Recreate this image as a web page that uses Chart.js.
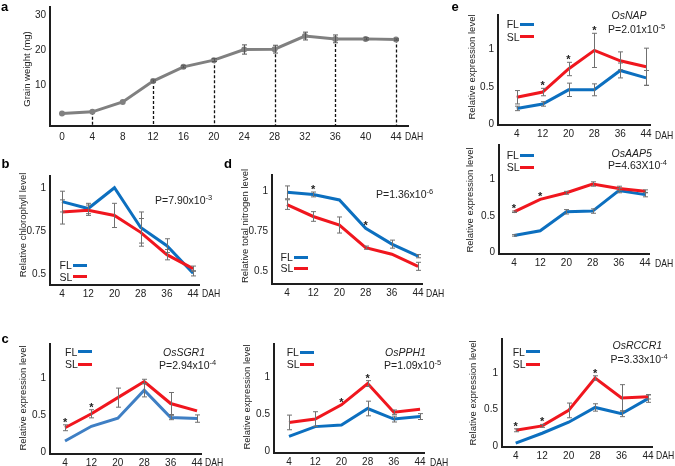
<!DOCTYPE html>
<html>
<head>
<meta charset="utf-8">
<script src="https://cdn.jsdelivr.net/npm/chart.js@4"></script>
<style>
  body { margin: 0; background: #fff; }
  #fig { position: relative; width: 675px; height: 466px; overflow: hidden; background: #fff;
         font-family: Arial, "Liberation Sans", sans-serif; color: #222; }
  #fig canvas { position: absolute; }
  .t { position: absolute; white-space: nowrap; font-size: 10.5px; line-height: 1; transform: translateY(-50%); }
  .lbl { font-weight: bold; font-size: 13px; color: #000; }
  .dah { transform: translateY(-50%) scaleX(0.82); transform-origin: left center; font-size: 10.5px; }
  .yt { position: absolute; white-space: nowrap; font-size: 9.5px; line-height: 1;
        transform: translate(-50%, -50%) rotate(-90deg); }
  .key { position: absolute; height: 3px; }
  sup { font-size: 7.5px; vertical-align: 4px; line-height: 0; }
</style>
</head>
<body>
<div id="fig"></div>
<script>
// ---- data ----
const days = [4, 12, 20, 28, 36, 44];

// a: grain weight
const grainDays = [0, 4, 8, 12, 16, 20, 24, 28, 32, 36, 40, 44];
const grainWeight = [2.1, 2.6, 5.4, 11.3, 15.3, 17.2, 20.2, 20.3, 24.0, 23.2, 23.2, 23.0];
const grainSd = [0, 0, 0, 0.3, 0.3, 0.4, 1.3, 1.1, 1.1, 1.1, 0.3, 0.2];
const grainDropDays = [4, 12, 20, 28, 36, 44];
const grainTicks = [10, 20, 30];

// b: chlorophyll
const chlFL = [0.92, 0.88, 1.0, 0.77, 0.665, 0.505];
const chlSL = [0.86, 0.87, 0.84, 0.742, 0.613, 0.532];
const chlFLsd = [0.06, 0.03, 0, 0.09, 0.04, 0.015];
const chlSLsd = [0.07, 0.03, 0.07, 0.08, 0.03, 0.015];

// d: total nitrogen
const nFL = [0.99, 0.977, 0.943, 0.766, 0.668, 0.593];
const nSL = [0.914, 0.84, 0.787, 0.646, 0.605, 0.53];
const nFLsd = [0.04, 0.015, 0, 0, 0.025, 0.01];
const nSLsd = [0.03, 0.03, 0.05, 0.01, 0, 0.025];
const ratioTicks = [0.5, 0.75, 1];

// c: OsSGR1, OsPPH1, OsRCCR1
const sgr1FL = [0.15, 0.35, 0.46, 0.84, 0.47, 0.455];
const sgr1SL = [0.33, 0.52, 0.74, 0.96, 0.66, 0.56];
const sgr1FLsd = [0, 0, 0, 0.09, 0.03, 0.05];
const sgr1SLsd = [0.04, 0.055, 0.13, 0.03, 0.15, 0];

const pph1FL = [0.2, 0.333, 0.356, 0.58, 0.436, 0.47];
const pph1SL = [0.39, 0.436, 0.63, 0.92, 0.53, 0.57];
const pph1FLsd = [0, 0, 0, 0.1, 0.04, 0.04];
const pph1SLsd = [0.1, 0.1, 0, 0.04, 0.03, 0];

const rccr1FL = [0.045, 0.18, 0.33, 0.53, 0.445, 0.65];
const rccr1SL = [0.22, 0.28, 0.49, 0.93, 0.66, 0.675];
const rccr1FLsd = [0, 0, 0, 0.05, 0.04, 0.05];
const rccr1SLsd = [0.02, 0.02, 0.1, 0.03, 0.18, 0.03];

// e: OsNAP, OsAAP5
const napFL = [0.21, 0.27, 0.46, 0.46, 0.72, 0.62];
const napSL = [0.36, 0.43, 0.74, 0.99, 0.85, 0.77];
const napFLsd = [0.03, 0.03, 0.09, 0.08, 0.1, 0.1];
const napSLsd = [0.09, 0.05, 0.09, 0.23, 0.12, 0.25];

const aap5FL = [0.237, 0.30, 0.56, 0.57, 0.85, 0.795];
const aap5SL = [0.56, 0.73, 0.82, 0.94, 0.88, 0.84];
const aap5FLsd = [0.01, 0, 0.03, 0.03, 0.03, 0.03];
const aap5SLsd = [0.01, 0, 0.02, 0.03, 0.03, 0.02];
const exprTicks = [0, 0.5, 1];

// significance marks (DAH)
const nStars = [12, 28];
const sgr1Stars = [4, 12];
const pph1Stars = [20, 28];
const rccr1Stars = [4, 12, 28];
const napStars = [12, 20, 28];
const aap5Stars = [4, 12];

// ---- drawing ----
const FL_BLUE = '#0c6fbf';
const SL_RED = '#f0161e';
const AXIS = '#1e1e1e';

Chart.defaults.font.family = 'Arial, "Liberation Sans", sans-serif';
Chart.defaults.font.size = 10;
Chart.defaults.color = '#222';

const fig = document.getElementById('fig');
const ML = 45, MT = 8, MR = 12, MB = 24;

function series(xs, vals, sd, color, order) {
  return {
    data: xs.map((d, i) => ({ x: d, y: vals[i] })),
    errors: sd,
    borderColor: color,
    backgroundColor: color,
    borderWidth: 3,
    pointRadius: 0,
    tension: 0,
    order: order
  };
}

function makeChart(box, xr, yr, xTicks, yTicks, datasets, extra) {
  const cv = document.createElement('canvas');
  const w = box.r - box.l + ML + MR, h = box.b - box.t + MT + MB;
  cv.width = w; cv.height = h;
  cv.style.left = (box.l - ML) + 'px';
  cv.style.top = (box.t - MT) + 'px';
  cv.style.width = w + 'px';
  cv.style.height = h + 'px';
  fig.appendChild(cv);

  // error bars, stars and drop lines, placed through the chart scales
  const marks = {
    id: 'marks',
    beforeDatasetsDraw(chart) {
      const { ctx, scales: { x, y }, chartArea } = chart;
      if (!extra.drop) return;
      ctx.save();
      ctx.strokeStyle = '#111';
      ctx.lineWidth = 1.3;
      ctx.setLineDash([3, 2]);
      const pts = chart.data.datasets[0].data;
      extra.drop.forEach(d => {
        const p = pts.find(q => q.x === d);
        const px = Math.round(x.getPixelForValue(d)) + 0.5;
        ctx.beginPath();
        ctx.moveTo(px, y.getPixelForValue(p.y));
        ctx.lineTo(px, chartArea.bottom);
        ctx.stroke();
      });
      ctx.restore();
    },
    afterDatasetsDraw(chart) {
      const { ctx, scales: { x, y } } = chart;
      ctx.save();
      ctx.strokeStyle = extra.barColor || '#707070';
      ctx.lineWidth = 1;
      chart.data.datasets.forEach(ds => {
        ds.data.forEach((p, i) => {
          const e = ds.errors[i];
          if (!e) return;
          const px = Math.round(x.getPixelForValue(p.x)) + 0.5;
          const top = y.getPixelForValue(p.y + e), bot = y.getPixelForValue(p.y - e);
          ctx.beginPath();
          ctx.moveTo(px, top); ctx.lineTo(px, bot);
          ctx.moveTo(px - 2.5, top); ctx.lineTo(px + 2.5, top);
          ctx.moveTo(px - 2.5, bot); ctx.lineTo(px + 2.5, bot);
          ctx.stroke();
        });
      });
      if (extra.stars) {
        ctx.fillStyle = '#222';
        ctx.font = 'bold 11px Arial, "Liberation Sans", sans-serif';
        ctx.textAlign = 'center';
        ctx.textBaseline = 'alphabetic';
        extra.stars.forEach(d => {
          let top = Infinity;
          chart.data.datasets.forEach(ds => {
            const i = ds.data.findIndex(q => q.x === d);
            top = Math.min(top, y.getPixelForValue(ds.data[i].y + (ds.errors[i] || 0)));
          });
          ctx.fillText('*', x.getPixelForValue(d), top + 1);
        });
      }
      ctx.restore();
    }
  };

  return new Chart(cv, {
    type: 'line',
    data: { datasets: datasets },
    options: {
      responsive: false,
      animation: false,
      devicePixelRatio: 1,
      layout: { padding: { top: MT, right: MR, left: 0, bottom: 0 } },
      plugins: { legend: { display: false }, tooltip: { enabled: false } },
      scales: {
        x: {
          type: 'linear', min: xr[0], max: xr[1],
          grid: { display: false, drawTicks: false },
          border: { color: AXIS, width: 2 },
          ticks: { padding: extra.xPad || 3, maxRotation: 0, autoSkip: false, color: '#222' },
          afterBuildTicks: s => { s.ticks = xTicks.map(v => ({ value: v })); },
          afterFit: s => { s.height = MB; }
        },
        y: {
          type: 'linear', min: yr[0], max: yr[1],
          grid: { display: false, drawTicks: false },
          border: { color: AXIS, width: 2 },
          ticks: { padding: 4, color: '#222', callback: v => String(v) },
          afterBuildTicks: s => { s.ticks = yTicks.map(v => ({ value: v })); },
          afterFit: s => { s.width = ML; }
        }
      }
    },
    plugins: [marks]
  });
}

function pair(fl, sl, flSd, slSd, flColor) {
  return [series(days, fl, flSd, flColor || FL_BLUE, 1), series(days, sl, slSd, SL_RED, 0)];
}

// a
const grainSet = series(grainDays, grainWeight, grainSd, '#808080', 0);
grainSet.pointRadius = 3;
grainSet.pointBorderWidth = 0;
makeChart({ l: 50, t: 5, r: 408, b: 126 }, [-1.58, 45.58], [-1.4, 32.2], grainDays, grainTicks,
  [grainSet], { drop: grainDropDays, xPad: 5, barColor: '#555' });

// b
makeChart({ l: 50, t: 174, r: 199, b: 285 }, [0.336, 45.8], [0.4375, 1.068], days, ratioTicks,
  pair(chlFL, chlSL, chlFLsd, chlSLsd), {});

// d
makeChart({ l: 272, t: 173, r: 422, b: 284 }, [-0.58, 45.2], [0.42, 1.098], days, ratioTicks,
  pair(nFL, nSL, nFLsd, nSLsd), { stars: nStars });

// c
makeChart({ l: 50, t: 342, r: 201, b: 454 }, [-0.55, 45.2], [-0.027, 1.47], days, exprTicks,
  pair(sgr1FL, sgr1SL, sgr1FLsd, sgr1SLsd, '#3f7fc4'), { stars: sgr1Stars });
makeChart({ l: 274, t: 342, r: 424, b: 453 }, [-0.58, 45.2], [-0.027, 1.46], days, exprTicks,
  pair(pph1FL, pph1SL, pph1FLsd, pph1SLsd), { stars: pph1Stars });
makeChart({ l: 502, t: 337, r: 652, b: 447 }, [-0.14, 45.2], [-0.007, 1.46], days, exprTicks,
  pair(rccr1FL, rccr1SL, rccr1FLsd, rccr1SLsd), { stars: rccr1Stars });

// e
makeChart({ l: 498, t: 13, r: 650, b: 125 }, [-1.8, 45.2], [-0.013, 1.466], days, exprTicks,
  pair(napFL, napSL, napFLsd, napSLsd), { stars: napStars });
makeChart({ l: 499, t: 143, r: 649, b: 254 }, [-0.58, 45.2], [-0.0175, 1.474], days, exprTicks,
  pair(aap5FL, aap5SL, aap5FLsd, aap5SLsd), { stars: aap5Stars });

// ---- text ----
function text(x, y, html, cls) {
  const d = document.createElement('div');
  d.className = cls || 't';
  d.style.left = x + 'px';
  d.style.top = y + 'px';
  d.innerHTML = html;
  fig.appendChild(d);
}
function legend(x, y1, y2) {
  [[y1, 'FL', FL_BLUE], [y2, 'SL', SL_RED]].forEach(([y, name, color]) => {
    text(x, y, name);
    const k = document.createElement('div');
    k.className = 'key';
    k.style.left = (x + 13) + 'px';
    k.style.top = (y - 1.5) + 'px';
    k.style.width = '14px';
    k.style.background = color;
    fig.appendChild(k);
  });
}

text(1, 6, 'a', 't lbl');
text(1.5, 163, 'b', 't lbl');
text(224, 163, 'd', 't lbl');
text(1.5, 337.5, 'c', 't lbl');
text(451.5, 6, 'e', 't lbl');

text(27, 69, 'Grain weight (mg)', 'yt');
text(23, 225, 'Relative chlorophyll level', 'yt');
text(245, 226, 'Relative total nitrogen level', 'yt');
text(22.7, 397.5, 'Relative expression level', 'yt');
text(246.7, 397, 'Relative expression level', 'yt');
text(473.3, 393, 'Relative expression level', 'yt');
text(471.7, 66.5, 'Relative expression level', 'yt');
text(470, 200, 'Relative expression level', 'yt');

text(405, 135.5, 'DAH', 't dah');
text(202, 292.7, 'DAH', 't dah');
text(426, 292.7, 'DAH', 't dah');
text(205, 461.7, 'DAH', 't dah');
text(430, 461.7, 'DAH', 't dah');
text(656, 455, 'DAH', 't dah');
text(655, 135, 'DAH', 't dah');
text(655, 262.7, 'DAH', 't dah');

text(155, 200, 'P=7.90x10<sup>-3</sup>');
text(376, 194, 'P=1.36x10<sup>-6</sup>');
text(159, 365, 'P=2.94x10<sup>-4</sup>');
text(384, 365, 'P=1.09x10<sup>-5</sup>');
text(610.5, 359.3, 'P=3.33x10<sup>-4</sup>');
text(608, 29.3, 'P=2.01x10<sup>-5</sup>');
text(608, 165, 'P=4.63X10<sup>-4</sup>');

text(163, 351.7, '<i>OsSGR1</i>');
text(385, 351.7, '<i>OsPPH1</i>');
text(612.5, 345, '<i>OsRCCR1</i>');
text(611.5, 15, '<i>OsNAP</i>');
text(611.5, 153, '<i>OsAAP5</i>');

legend(59.5, 265, 276.7);
legend(280.5, 257, 268);
legend(65, 351.7, 364.3);
legend(286.7, 352, 364);
legend(512.7, 351.7, 364);
legend(506.7, 24.3, 36.7);
legend(506.7, 155, 167.3);
</script>
</body>
</html>
